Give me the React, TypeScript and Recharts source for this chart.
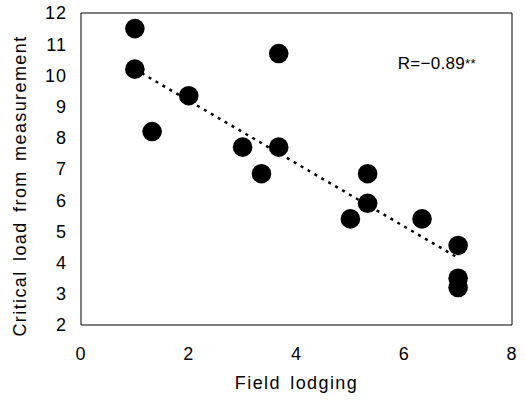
import {
  ScatterChart,
  Scatter,
  XAxis,
  YAxis,
  ReferenceLine,
  ReferenceDot,
} from "recharts";

const fieldLodging = [1, 1, 1.32, 2, 3, 3.35, 3.67, 3.67, 5, 5.32, 5.32, 6.33, 7, 7, 7];
const criticalLoad = [11.5, 10.2, 8.2, 9.35, 7.7, 6.85, 10.7, 7.7, 5.4, 6.85, 5.9, 5.4, 4.55, 3.5, 3.2];
const xTicks = [0, 2, 4, 6, 8];
const yTicks = [2, 3, 4, 5, 6, 7, 8, 9, 10, 11, 12];
const trendStart = { x: 1, y: 10.2 };
const trendEnd = { x: 7, y: 4.15 };
const corrText = "R=\u22120.89";

const points = fieldLodging.map((x, i) => ({ x, y: criticalLoad[i] }));

const font = '"Liberation Sans", Arial, sans-serif';
const tickStyle = { fontSize: 18, fill: "#000", fontFamily: font, letterSpacing: 1 };

function YTitle(props: any) {
  const vb = props.viewBox;
  const cx = 20;
  const cy = vb.y + vb.height / 2 + 17;
  return (
    <text
      x={cx}
      y={cy}
      transform={`rotate(-90, ${cx}, ${cy})`}
      textAnchor="middle"
      dominantBaseline="central"
      fontSize={18}
      fontFamily={font}
      letterSpacing={1.4}
      wordSpacing={3}
      fill="#000"
    >
      Critical load from measurement
    </text>
  );
}

function CorrLabel(props: any) {
  const vb = props.viewBox;
  return (
    <text x={vb.x} y={vb.y} fontSize={17} fontFamily={font} fill="#000" letterSpacing={0.3}>
      {corrText}
      <tspan fontSize={13} dy={-1}>**</tspan>
    </text>
  );
}

function Dot(props: any) {
  return <circle cx={props.cx} cy={props.cy} r={9.8} fill="#000" />;
}

export default function App() {
  return (
    <div style={{ position: "absolute", left: 0, top: 0, background: "#fff" }}>
      <ScatterChart
        width={525}
        height={405}
        margin={{ top: 13, right: 13, left: 0, bottom: 16 }}
      >
        <XAxis
          type="number"
          dataKey="x"
          domain={[0, 8]}
          ticks={xTicks}
          height={64}
          tickLine={false}
          tickSize={0}
          tickMargin={22}
          axisLine={{ stroke: "#000" }}
          tick={tickStyle}
          label={{
            value: "Field lodging",
            position: "insideBottom",
            offset: 0,
            style: { fontSize: 18, fill: "#000", fontFamily: font, letterSpacing: 1.4, wordSpacing: 3 },
          }}
        />
        <YAxis
          type="number"
          dataKey="y"
          domain={[2, 12]}
          ticks={yTicks}
          width={81}
          tickLine={false}
          tickSize={0}
          tickMargin={14}
          axisLine={{ stroke: "#000" }}
          tick={tickStyle}
          label={<YTitle />}
        />
        <ReferenceLine y={12} stroke="#000" strokeWidth={1} />
        <ReferenceLine x={8} stroke="#000" strokeWidth={1} />
        <ReferenceLine
          segment={[trendStart, trendEnd]}
          stroke="#000"
          strokeWidth={2.5}
          strokeDasharray="3 5"
        />
        <Scatter data={points} fill="#000" shape={<Dot />} isAnimationActive={false} />
        <ReferenceDot x={5.88} y={10.2} r={0} fill="none" stroke="none" label={<CorrLabel />} />
      </ScatterChart>
    </div>
  );
}
